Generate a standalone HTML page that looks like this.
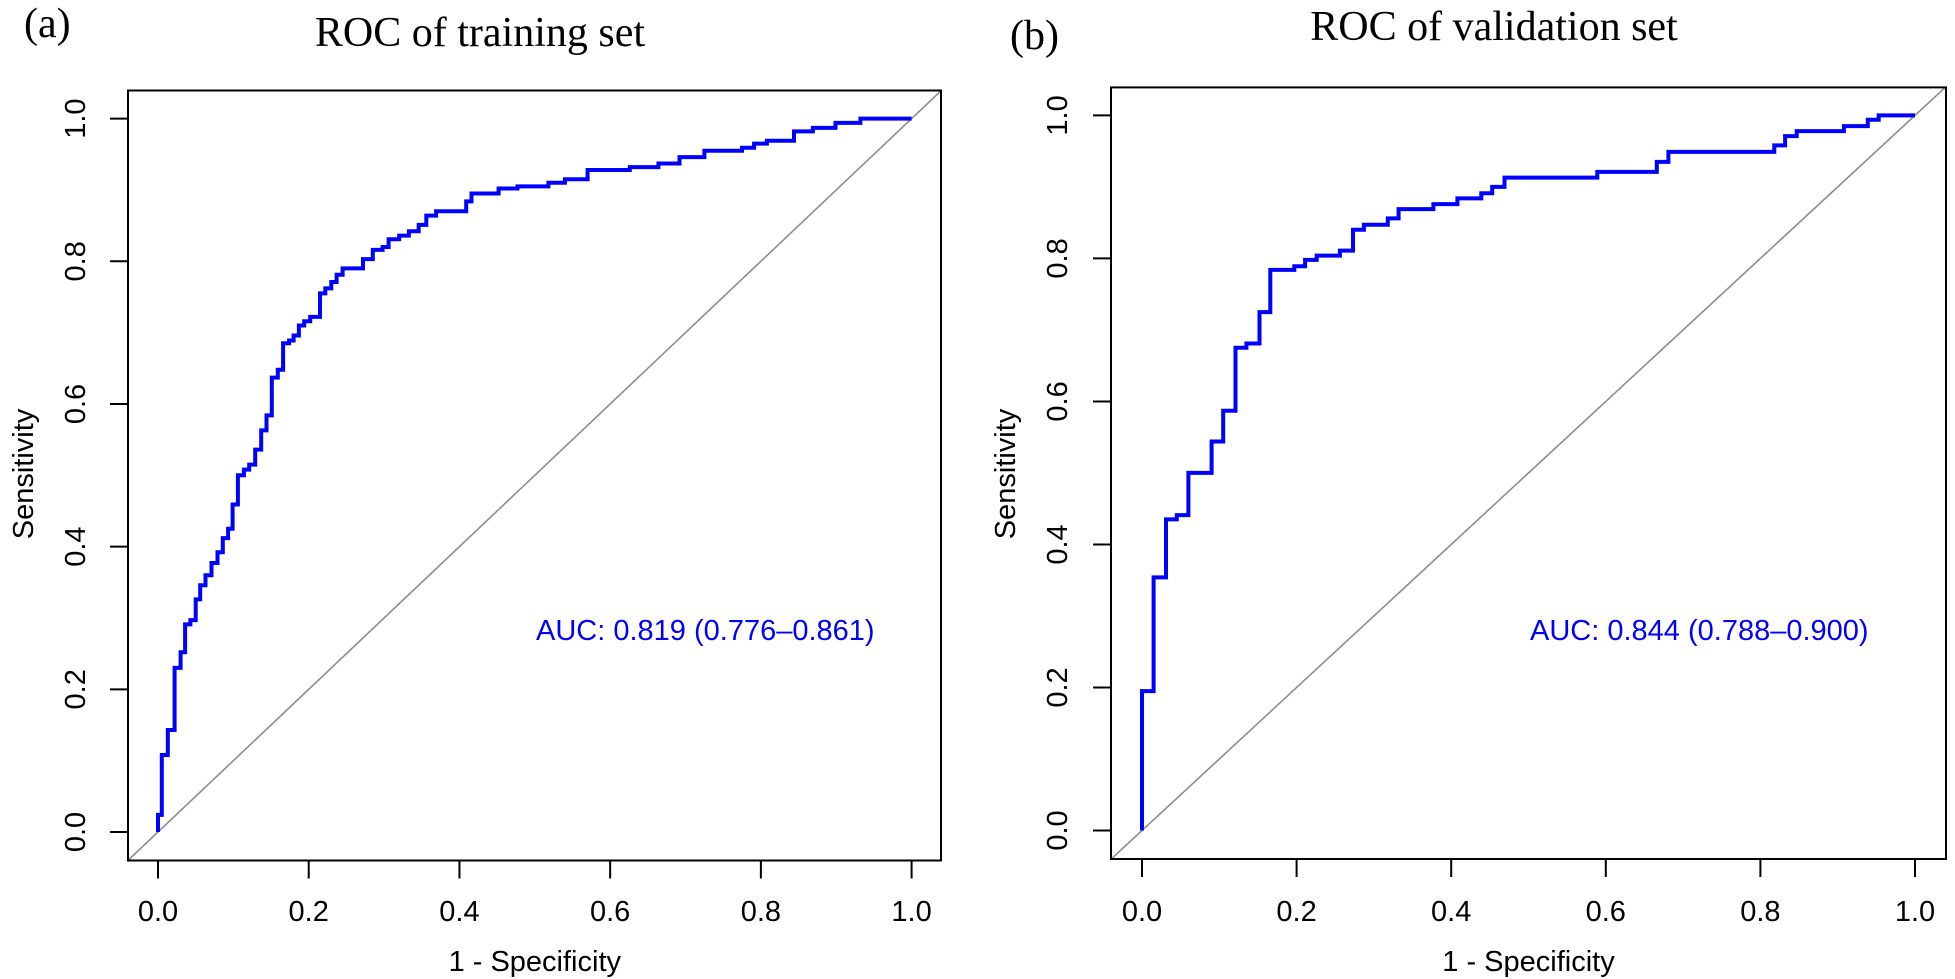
<!DOCTYPE html>
<html><head><meta charset="utf-8"><style>
html,body{margin:0;padding:0;background:#fff;}
svg{display:block;}
.tk{font-family:"Liberation Sans",sans-serif;font-size:29px;fill:#000;}
.ttl{font-family:"Liberation Serif",serif;font-size:42px;fill:#000;}
</style></head><body>
<svg id="fig" width="1955" height="979" viewBox="0 0 1955 979" xmlns="http://www.w3.org/2000/svg"></svg>
<script>
const ticks = [0, 0.2, 0.4, 0.6, 0.8, 1.0];
const tickLabels = ["0.0", "0.2", "0.4", "0.6", "0.8", "1.0"];
const fprA = [0,.005,.013,.022,.030,.036,.043,.050,.056,.063,.071,.079,.086,.093,.099,.106,.114,.121,.129,.137,.144,.151,.159,.166,.174,.180,.187,.194,.202,.215,.222,.230,.237,.245,.272,.285,.298,.306,.320,.333,.346,.356,.369,.409,.416,.452,.477,.518,.540,.570,.626,.664,.692,.725,.775,.791,.808,.844,.869,.899,.932];
const tprA = [.024,.108,.143,.23,.252,.291,.297,.326,.346,.36,.377,.392,.412,.425,.459,.5,.508,.515,.536,.563,.584,.637,.648,.685,.689,.696,.71,.716,.722,.755,.762,.771,.781,.79,.803,.816,.82,.831,.836,.842,.851,.864,.87,.884,.895,.902,.905,.91,.915,.928,.932,.937,.946,.955,.959,.965,.969,.982,.987,.994,1.0];
const fprB = [0,.015,.031,.045,.060,.090,.105,.121,.135,.152,.166,.197,.211,.226,.256,.273,.287,.318,.332,.377,.408,.439,.453,.469,.589,.666,.681,.818,.832,.847,.908,.939,.953];
const tprB = [.195,.354,.435,.441,.5,.544,.587,.675,.681,.725,.784,.789,.798,.804,.811,.84,.847,.856,.869,.876,.884,.891,.9,.913,.921,.935,.949,.958,.971,.978,.985,.994,1.0];

const NS = "http://www.w3.org/2000/svg";
const svg = document.getElementById('fig');
function mk(tag, attrs, parent, text){
  const e = document.createElementNS(NS, tag);
  for (const k in attrs) e.setAttribute(k, attrs[k]);
  if (text !== undefined) e.textContent = text;
  (parent || svg).appendChild(e);
  return e;
}

function panel(cfg){
  const g = mk('g', {});
  
  
  const sx = v => cfg.x0 + v * (cfg.x1 - cfg.x0);
  const sy = v => cfg.y0 + v * (cfg.y1 - cfg.y0);
  const cid = 'clip-' + cfg.name;
  const cp = mk('clipPath', {id: cid}, g);
  mk('rect', {x: cfg.bl, y: cfg.bt, width: cfg.br - cfg.bl, height: cfg.bb - cfg.bt}, cp);
  const diag = mk('line', {x1: sx(-0.2), y1: sy(-0.2), x2: sx(1.2), y2: sy(1.2), stroke: '#8c8c8c', 'stroke-width': 1.6, 'clip-path': 'url(#' + cid + ')'}, g);
  
  
  let d = 'M' + sx(0) + ',' + sy(0);
  for (let i = 0; i < cfg.fpr.length; i++) {
    d += ' H' + sx(cfg.fpr[i]).toFixed(1) + ' V' + sy(cfg.tpr[i]).toFixed(1);
  }
  d += ' H' + sx(1);
  const curve = mk('path', {d: d, fill: 'none', stroke: '#0000ff', 'stroke-width': 4, 'stroke-linejoin': 'miter'}, g);
  
  
  const box = mk('rect', {x: cfg.bl, y: cfg.bt, width: cfg.br - cfg.bl, height: cfg.bb - cfg.bt, fill: 'none', stroke: '#000', 'stroke-width': 2}, g);
  
  
  const xa = mk('g', {}, g);
  
  
  mk('line', {x1: sx(0), y1: cfg.bb, x2: sx(1), y2: cfg.bb, stroke: '#000', 'stroke-width': 2}, xa);
  ticks.forEach((t, i) => {
    mk('line', {x1: sx(t), y1: cfg.bb, x2: sx(t), y2: cfg.bb + 18, stroke: '#000', 'stroke-width': 2}, xa);
    const tl = mk('text', {x: sx(t), y: 921, 'text-anchor': 'middle', class: 'tk'}, xa, tickLabels[i]);
    
    
  });
  const xt = mk('text', {x: (sx(0) + sx(1)) / 2, y: 971, 'text-anchor': 'middle', class: 'tk', 'font-size': '27'}, g, '1 - Specificity');
  
  
  const ya = mk('g', {}, g);
  
  
  mk('line', {x1: cfg.bl, y1: sy(0), x2: cfg.bl, y2: sy(1), stroke: '#000', 'stroke-width': 2}, ya);
  ticks.forEach((t, i) => {
    mk('line', {x1: cfg.bl, y1: sy(t), x2: cfg.bl - 18, y2: sy(t), stroke: '#000', 'stroke-width': 2}, ya);
    const lx = cfg.ylx;
    const tl = mk('text', {x: lx, y: sy(t), 'text-anchor': 'middle', class: 'tk', transform: 'rotate(-90 ' + lx + ' ' + sy(t) + ')'}, ya, tickLabels[i]);
    
    
  });
  const yt = mk('text', {x: cfg.ytx, y: 474, 'text-anchor': 'middle', class: 'tk', 'font-size': '27', transform: 'rotate(-90 ' + cfg.ytx + ' 474)'}, g, 'Sensitivity');
  
  
  const ttl = mk('text', {x: cfg.tx, y: cfg.ty, 'text-anchor': 'middle', class: 'ttl'}, g, cfg.title);
  
  
  const lab = mk('text', {x: cfg.lx, y: cfg.ly, class: 'ttl'}, g, cfg.label);
  
  
  const auc = mk('text', {x: cfg.ax, y: 640, class: 'tk', 'font-size': '27', fill: '#0000ff', style: 'fill:#0000ff'}, g, cfg.auc);
  
  
}

panel({name: 'panel-a-training', x0: 158, x1: 911.6, y0: 832, y1: 118.6, bl: 128, br: 941, bt: 90.5, bb: 860.5,
  fpr: fprA, tpr: tprA, ylx: 85, ytx: 33, tx: 480, ty: 46, lx: 24, ly: 37, label: '(a)',
  title: 'ROC of training set', ax: 536, auc: 'AUC: 0.819 (0.776\u20130.861)'});
panel({name: 'panel-b-validation', x0: 1142, x1: 1915, y0: 830.5, y1: 115.4, bl: 1111, br: 1946, bt: 87.4, bb: 859,
  fpr: fprB, tpr: tprB, ylx: 1067, ytx: 1015, tx: 1494, ty: 40, lx: 1010, ly: 49, label: '(b)',
  title: 'ROC of validation set', ax: 1530, auc: 'AUC: 0.844 (0.788\u20130.900)'});
</script>
</body></html>
